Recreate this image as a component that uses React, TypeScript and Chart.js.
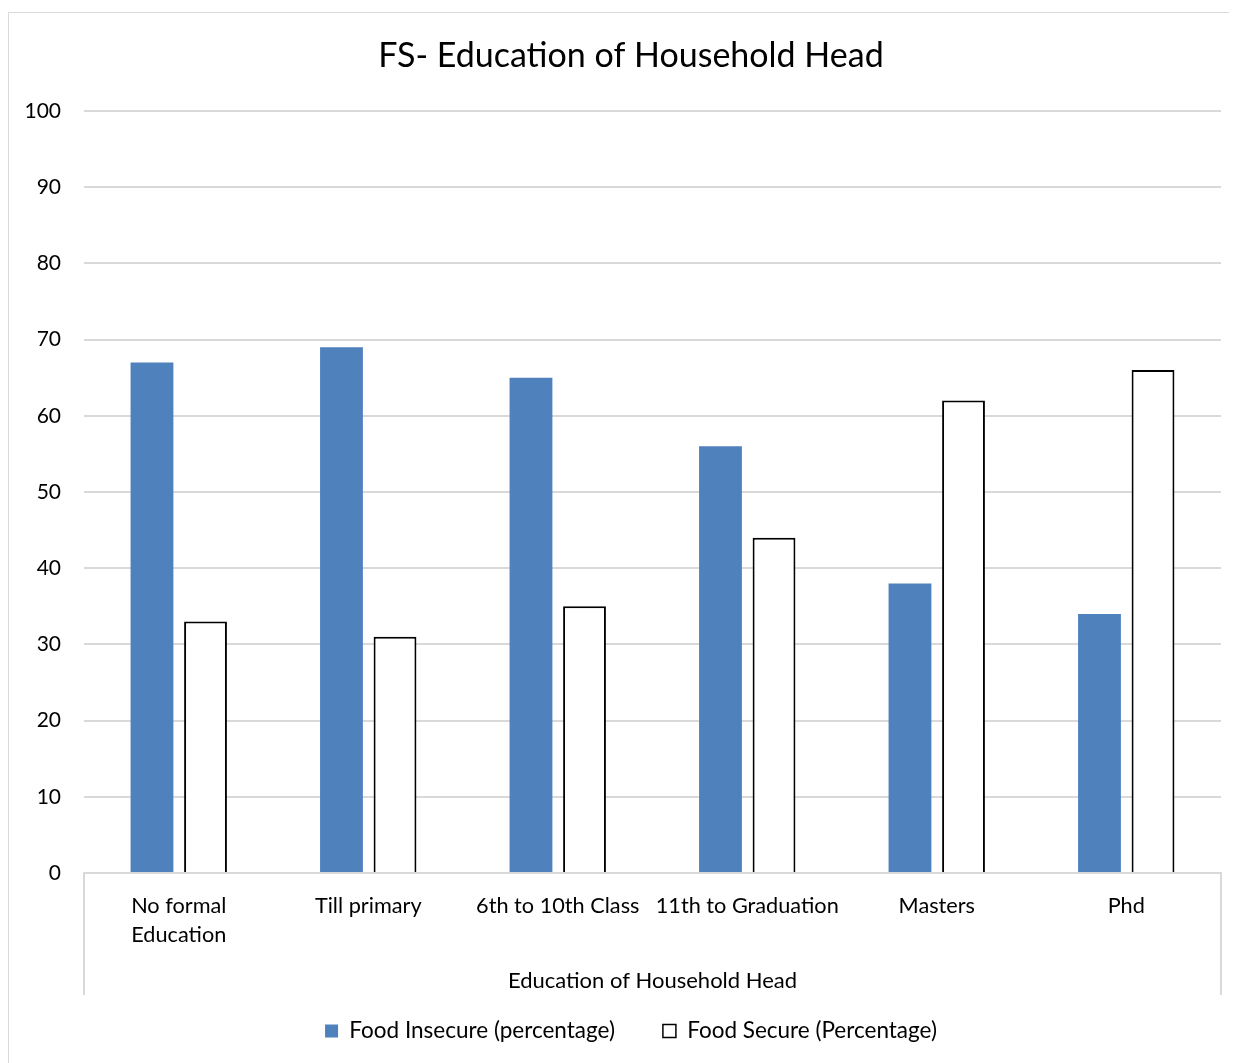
import React, { useEffect, useRef } from "react";
import { Chart, registerables } from "chart.js";

Chart.register(...registerables);

const categories: (string | string[])[] = [
  ["No formal", "Education"],
  "Till primary",
  "6th to 10th Class",
  "11th to Graduation",
  "Masters",
  "Phd",
];
const foodInsecure = [67, 69, 65, 56, 38, 34];
const foodSecure = [33, 31, 35, 44, 62, 66];
const seriesLabels = ["Food Insecure (percentage)", "Food Secure (Percentage)"];
const chartTitle = "FS- Education of Household Head";
const xAxisTitle = "Education of Household Head";

const FONT = "Lato";
const BLUE = "#4f81bd";
const GRID = "#d9d9d9";

const edgeLines = {
  id: "edgeLines",
  afterDraw(chart: any) {
    const { ctx, chartArea } = chart;
    ctx.save();
    ctx.strokeStyle = GRID;
    ctx.lineWidth = 2;
    ctx.beginPath();
    ctx.moveTo(chartArea.left, chartArea.bottom);
    ctx.lineTo(chartArea.left, chartArea.bottom + 122);
    ctx.moveTo(chartArea.right, chartArea.bottom);
    ctx.lineTo(chartArea.right, chartArea.bottom + 122);
    ctx.stroke();
    ctx.restore();
  },
};

export default function App() {
  const ref = useRef<HTMLCanvasElement | null>(null);
  useEffect(() => {
    if (!ref.current) return;
    const chart = new Chart(ref.current, {
      type: "bar",
      data: {
        labels: categories,
        datasets: [
          {
            label: seriesLabels[0],
            data: foodInsecure,
            backgroundColor: BLUE,
            borderColor: BLUE,
            borderWidth: 0,
            categoryPercentage: 0.565,
            barPercentage: 0.8,
          },
          {
            label: seriesLabels[1],
            data: foodSecure,
            backgroundColor: "#ffffff",
            borderColor: "#000000",
            borderWidth: 2,
            categoryPercentage: 0.565,
            barPercentage: 0.8,
          },
        ],
      },
      options: {
        animation: false,
        responsive: false,
        maintainAspectRatio: false,
        layout: { padding: { left: 0, right: 0, top: 0, bottom: 10.75 } },
        plugins: {
          title: {
            display: true,
            text: chartTitle,
            color: "#000",
            font: { family: FONT, size: 34, weight: "normal" },
            padding: { top: 22.6, bottom: 34.6 },
          },
          legend: {
            position: "bottom",
            labels: {
              color: "#000",
              font: { family: FONT, size: 22.5 },
              boxWidth: 13,
              boxHeight: 13,
              padding: 48,
              generateLabels: () => [
                {
                  text: seriesLabels[0],
                  fillStyle: BLUE,
                  strokeStyle: BLUE,
                  lineWidth: 0,
                  datasetIndex: 0,
                  fontColor: "#000",
                },
                {
                  text: seriesLabels[1],
                  fillStyle: "#ffffff",
                  strokeStyle: "#000000",
                  lineWidth: 1.5,
                  datasetIndex: 1,
                  fontColor: "#000",
                },
              ],
            },
          },
          tooltip: { enabled: false },
        },
        scales: {
          x: {
            grid: { display: false, drawTicks: false },
            border: { display: true, color: GRID, width: 2 },
            ticks: {
              color: "#000",
              font: { family: FONT, size: 21.7, lineHeight: "29px" },
              padding: 19,
              maxRotation: 0,
              autoSkip: false,
            },
            title: {
              display: true,
              text: xAxisTitle,
              color: "#000",
              font: { family: FONT, size: 22 },
              padding: { top: 0, bottom: -22 },
            },
            afterFit: (scale: any) => {
              scale.height = 98.75;
            },
          },
          y: {
            min: 0,
            max: 100,
            ticks: {
              stepSize: 10,
              color: "#000",
              font: { family: FONT, size: 21 },
              padding: 23,
            },
            grid: { color: GRID, lineWidth: 2, drawTicks: false },
            border: { display: false },
            afterFit: (scale: any) => {
              scale.width = 75;
            },
          },
          yRight: {
            position: "right",
            min: 0,
            max: 100,
            ticks: { display: false },
            grid: { display: false, drawTicks: false },
            border: { display: false },
            afterFit: (scale: any) => {
              scale.width = 32;
            },
          },
        },
      },
      plugins: [edgeLines],
    });
    return () => chart.destroy();
  }, []);

  return (
    <div style={{ position: "relative", width: 1229, height: 1055, overflow: "hidden" }}>
      <div
        style={{
          position: "absolute",
          top: 4,
          left: 0,
          width: 1244,
          height: 1060,
          border: `1px solid ${GRID}`,
          background: "#fff",
        }}
      >
        <canvas ref={ref} width={1244} height={1050} style={{ display: "block", width: 1244, height: 1050 }} />
      </div>
    </div>
  );
}
